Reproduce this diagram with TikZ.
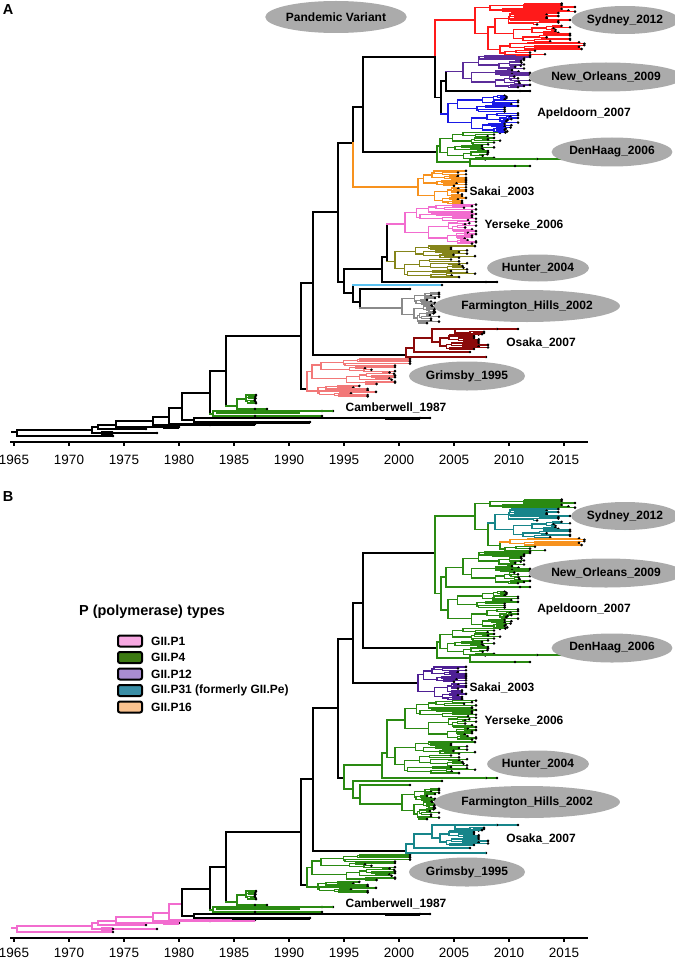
\documentclass[tikz,border=0pt]{standalone}
\usepackage{fontspec}
\setmainfont{Liberation Sans}
\usetikzlibrary{shapes.geometric}
\definecolor{redA}{HTML}{FF1A1A}
\definecolor{purA}{HTML}{5B2C9A}
\definecolor{bluA}{HTML}{1A1AE6}
\definecolor{grn}{HTML}{2A8A12}
\definecolor{orgA}{HTML}{F7921E}
\definecolor{pnkA}{HTML}{F26CCF}
\definecolor{olvA}{HTML}{85851A}
\definecolor{cyaA}{HTML}{5CC3F2}
\definecolor{gryA}{HTML}{8A8A8A}
\definecolor{drdA}{HTML}{8B0A0A}
\definecolor{salA}{HTML}{F27878}
\definecolor{tealB}{HTML}{17858A}
\definecolor{purB}{HTML}{4E1F94}
\definecolor{ellg}{HTML}{ABABAB}
\definecolor{lgPa}{HTML}{F7A8E2}
\definecolor{lgPb}{HTML}{3C7A12}
\definecolor{lgPc}{HTML}{A98CD2}
\definecolor{lgPd}{HTML}{3A8EA6}
\definecolor{lgPe}{HTML}{F9C28F}
\tikzset{
  br/.style={line width=1.3pt,line cap=rect},
  bb/.style={line width=1.7pt,line cap=rect},
  ell/.style={ellipse,fill=ellg,inner sep=0pt,font=\fontsize{12}{14}\selectfont\bfseries},
  lab/.style={inner sep=0pt,font=\fontsize{12}{14}\selectfont\bfseries},
  axl/.style={inner sep=0pt,font=\fontsize{13.5}{16}\selectfont},
}
\def\rtmin{2.2}
\def\rtstep{0.42}
\def\rtjit{10}
\def\rtcol{black}
\def\axly{460}
\newcommand\tipd[2]{\fill[black] (#1,#2) circle[radius=1.45pt];}
\newcommand\rtree[4]{%
\begingroup
\pgfmathsetmacro\rtspan{#3-#2}%
\pgfmathsetmacro\rtmid{(#2+#3)/2}%
\ifdim\rtspan pt<\rtmin pt\relax
  \pgfmathsetmacro\rttip{max(#1+2,#4-\rtjit*floor(4*rnd)/3)}%
  \draw[br,color=\rtcol] (#1,\rtmid)--(\rttip,\rtmid);
  \tipd{\rttip}{\rtmid}%
\else
  \pgfmathsetmacro\rts{#2+(0.3+0.4*rnd)*\rtspan}%
  \pgfmathsetmacro\rtca{(#2+\rts)/2}%
  \pgfmathsetmacro\rtcb{(\rts+#3)/2}%
  \pgfmathsetmacro\rtxa{#1+\rtstep*rnd*(#4-#1)}%
  \pgfmathsetmacro\rtxb{#1+\rtstep*rnd*(#4-#1)}%
  \draw[br,color=\rtcol] (\rtxa,\rtca)-|(#1,\rtcb)--(\rtxb,\rtcb);
  \edef\rtnext{\noexpand\rtree{\rtxa}{#2}{\rts}{#4}\noexpand\rtree{\rtxb}{\rts}{#3}{#4}}%
  \rtnext
\fi
\endgroup}
% seed, color, parent x, root x, ya, yb, xend, jitter
\newcommand\clade[8]{%
  \pgfmathsetseed{#1}%
  \def\rtcol{#2}\def\rtjit{#8}%
  \pgfmathsetmacro\clmid{(#5+#6)/2}%
  \draw[br,color=#2] (#3,\clmid)--(#4,\clmid);
  \rtree{#4}{#5}{#6}{#7}}

\newcommand\drawpanel{%
% ---- axis
\draw[line width=2.2pt] (10,442)--(588,442);
\foreach \yr [count=\i from 0] in {1965,1970,...,2015}{%
  \draw[line width=1.3pt] (14+55*\i,442)--(14+55*\i,446);
  \node[axl] at (14+55*\i,\axly) {\yr};}
% ---- root ladder
\draw[bb,cR] (12,432)--(17,432);
\draw[bb,cR] (113,436)-|(17,430)--(92,430); \tipd{113}{436}
\draw[bb,cR] (157,433)-|(92,427)--(98,427); \tipd{157}{433}
\draw[line width=3.2pt,cR] (101,433)--(113,433); \tipd{113}{433}
\draw[bb,cR] (146,429)-|(98,425)--(116,425); \tipd{146}{429}
\draw[bb,cR] (179,427)-|(116,421)--(153,421); \tipd{179}{427}
\draw[line width=3pt,cR] (163,427)--(179,427);
\draw[bb,cR] (210,425)-|(153,417)--(169,417); \tipd{210}{425}
\draw[bb,cR] (255,424)-|(169,408)--(182,408); \tipd{255}{424}
\draw[line width=3pt,cR] (194,424)--(255,424);
\draw[bb,cK] (194,420)-|(182,393)--(210,393);
\draw[bb,cK] (430,418)-|(194,422)--(310,422); \tipd{430}{418}\tipd{420}{418}\tipd{310}{422}
\draw[line width=3pt,cK] (385,418)--(420,418) (232,422)--(310,422);
% ---- N210 and Camberwell
\draw[bb,cK] (226,371)-|(210,414);
\draw[bb,cCam] (210,414)--(213,414);
\draw[br,cCam] (333,411)-|(213,416)--(322,416); \tipd{333}{411}\tipd{322}{416}\tipd{322}{411}\tipd{255}{416}
\draw[line width=2.6pt,cCam] (283,411)--(333,411) (216,413)--(300,413);
\draw[bb,cK] (301,336)-|(226,406); \draw[bb,cCam] (226,406)--(237,406);
\draw[br,cCam] (246,399)-|(237,409)--(267,409); \tipd{267}{409}\tipd{255}{409}
\pgfmathsetseed{31}\def\rtcol{cCam}\def\rtjit{2}\rtree{246}{394}{404}{256}
% ---- N301, Grimsby
\draw[bb,cK] (313,283)-|(301,389)--(307,389);
\draw[br,cGri] (312,371.5)-|(307,391)--(318,391);
\pgfmathsetseed{41}\def\rtcol{cGri}\def\rtjit{45}\rtree{312}{358}{385}{410}
\pgfmathsetseed{42}\def\rtcol{cGri}\def\rtjit{25}\rtree{318}{385}{397}{376}
% ---- N313, Osaka
\draw[bb,cK] (338,212)-|(313,355)--(406,355);
\draw[br,cOsa] (486,357)-|(406,348)--(414,348); \tipd{486}{357}
\draw[br,cOsa] (470,352)-|(414,338)--(432,338); \tipd{470}{352}
\draw[line width=2.6pt,cOsa] (450,357)--(486,357);
\draw[br,cOsa] (455,329)-|(432,342)--(440,342);
\draw[br,cOsa] (518,329)-|(455,333)--(470,333); \tipd{518}{329}\tipd{497}{329}
\draw[line width=2.6pt,cOsa] (470,329)--(497,329);
\pgfmathsetseed{51}\def\rtcol{cOsa}\def\rtjit{14}\rtree{440}{334}{350}{488}
\pgfmathsetseed{52}\def\rtcol{cOsa}\def\rtjit{6}\rtree{470}{331}{335}{486}
% ---- N338, N353, Sakai
\draw[bb,cK] (353,143)-|(338,282)--(344,282);
\draw[bb,cK] (363,107)-|(353,143);
\draw[bb,cSakS] (353,143)--(353,187)--(418,187);
\pgfmathsetseed{61}\def\rtcol{cSak}\def\rtjit{12}\rtree{418}{170}{204}{466}
% ---- N363, DenHaag
\draw[bb,cK] (435,57)-|(363,152)--(437,152);
\draw[br,cDH] (440,146)-|(437,162)--(470,162);
\pgfmathsetseed{71}\def\rtcol{cDH}\def\rtjit{18}\rtree{440}{132}{160}{500}
\draw[br,cDH] (562,159)-|(470,166)--(530,166); \tipd{562}{159}\tipd{537}{159}\tipd{530}{166}\tipd{515}{166}
\draw[line width=2.8pt,cDH] (505,159)--(537,159);
% ---- N435 group
\draw[bb,cSyd] (475,20)-|(435,57);
\draw[bb,cN] (435,57)--(435,97.5)--(441,97.5);
\draw[br,cN] (446,81)-|(441,114); \draw[br,cAp] (441,114)--(448,114);
\pgfmathsetseed{81}\def\rtcol{cAp}\def\rtjit{20}\rtree{448}{95}{133}{518}
\draw[br,cN] (530,91)-|(446,71.5); \draw[br,cNO] (446,71.5)--(463,71.5); \tipd{530}{91}\tipd{520}{91}
\pgfmathsetseed{91}\def\rtcol{cNO}\def\rtjit{18}\rtree{463}{55}{88}{530}
% red / Sydney
\draw[br,cSyd] (475,7.5)--(475,33.5);
\clade{11}{cSyd}{475}{490}{3}{12}{575}{20}
\draw[br,cSyd] (475,33.5)--(488,33.5) (488,27)--(488,49.5) (488,49.5)--(500,49.5) (500,46)--(500,53);
\clade{12}{cSydT}{488}{495}{12}{42}{570}{35}
\clade{13}{cSydO}{500}{510}{42}{50}{587}{8}
\clade{14}{cSydG}{500}{505}{50}{56}{545}{15}
% ---- N344 group
\draw[bb,cNf] (382,269)-|(344,293)--(353,293);
\draw[bb,cNf] (387,257)-|(382,282)--(497,282); \tipd{497}{282}\tipd{486}{282}
\draw[line width=2.6pt,cNf] (440,282)--(486,282);
\draw[bb,cNf] (387,224)--(387,261.5);
\draw[br,cYer] (387,224)--(405,224);
\pgfmathsetseed{101}\def\rtcol{cYer}\def\rtjit{12}\rtree{405}{204}{244}{476}
\draw[br,cHun] (387,261.5)--(395,261.5);
\pgfmathsetseed{111}\def\rtcol{cHun}\def\rtjit{24}\rtree{395}{245}{278}{475}
\draw[bb,cNf] (353,285)--(353,302)--(360,302);
\draw[br,cCya] (353,285)--(442,285); \tipd{442}{285}
\draw[bb,cNf] (410,289)-|(360,308); \tipd{410}{289}
\draw[br,cFarm] (360,308)--(402,308);
\pgfmathsetseed{121}\def\rtcol{cFarm}\def\rtjit{12}\rtree{402}{292}{324}{439}
% ---- labels
\node[ell,minimum width=94pt,minimum height=28pt] at (625,20) {Sydney\_2012};
\node[ell,minimum width=134pt,minimum height=29pt] at (606,77) {New\_Orleans\_2009};
\node[lab] at (584,113) {Apeldoorn\_2007};
\node[ell,minimum width=105pt,minimum height=29pt] at (612,152) {DenHaag\_2006};
\node[lab] at (502,192) {Sakai\_2003};
\node[lab] at (524,225) {Yerseke\_2006};
\node[ell,minimum width=97pt,minimum height=27pt] at (538,268) {Hunter\_2004};
\node[ell,minimum width=159pt,minimum height=32pt] at (527,306) {Farmington\_Hills\_2002};
\node[lab] at (541,343) {Osaka\_2007};
\node[ell,minimum width=100pt,minimum height=29pt] at (467,376) {Grimsby\_1995};
\node[lab] at (396,408) {Camberwell\_1987};
}

\begin{document}
\begin{tikzpicture}[x=1pt,y=-1pt]
\useasboundingbox (0,0) rectangle (674,960);
% ================= Panel A
\begin{scope}
\colorlet{cR}{black}\colorlet{cK}{black}
\colorlet{cSyd}{redA}\colorlet{cSydT}{redA}\colorlet{cSydO}{redA}\colorlet{cSydG}{redA}
\colorlet{cN}{black}\colorlet{cNO}{purA}\colorlet{cAp}{bluA}\colorlet{cDH}{grn}
\colorlet{cSakS}{orgA}\colorlet{cSak}{orgA}\colorlet{cNf}{black}
\colorlet{cYer}{pnkA}\colorlet{cHun}{olvA}\colorlet{cCya}{cyaA}\colorlet{cFarm}{gryA}
\colorlet{cOsa}{drdA}\colorlet{cGri}{salA}\colorlet{cCam}{grn}
\def\axly{460}
\drawpanel
\node[ell,minimum width=138pt,minimum height=32pt] (pv) at (336,17) {Pandemic Variant};
\node[inner sep=0pt,font=\fontsize{14.5}{16}\selectfont\bfseries] (la) at (8,10) {A};
\end{scope}
% ================= Panel B
\begin{scope}[yshift=-496pt]
\colorlet{cR}{pnkA}\colorlet{cK}{black}
\colorlet{cSyd}{grn}\colorlet{cSydT}{tealB}\colorlet{cSydO}{orgA}\colorlet{cSydG}{grn}
\colorlet{cN}{grn}\colorlet{cNO}{grn}\colorlet{cAp}{grn}\colorlet{cDH}{grn}
\colorlet{cSakS}{black}\colorlet{cSak}{purB}\colorlet{cNf}{grn}
\colorlet{cYer}{grn}\colorlet{cHun}{grn}\colorlet{cCya}{grn}\colorlet{cFarm}{grn}
\colorlet{cOsa}{tealB}\colorlet{cGri}{grn}\colorlet{cCam}{grn}
\def\axly{457}
\drawpanel
\node[inner sep=0pt,font=\fontsize{14.5}{16}\selectfont\bfseries] (lb) at (8,1) {B};
\end{scope}
% ================= Legend (panel B)
\node[inner sep=0pt,font=\fontsize{14.5}{17}\selectfont\bfseries] (lt) at (152,612) {P (polymerase) types};
\foreach \yy/\cc/\tt [count=\k] in {641/lgPa/GII.P1,657.5/lgPb/GII.P4,674/lgPc/GII.P12,690.5/lgPd/GII.P31 (formerly GII.Pe),707/lgPe/GII.P16}{%
  \draw[line width=2pt,rounded corners=2pt,fill=\cc] (118,\yy-5.5) rectangle (142,\yy+5.5);
  \node[anchor=west,inner sep=0pt,font=\fontsize{12}{14}\selectfont\bfseries] (lg\k) at (151,\yy) {\tt};
}
\end{tikzpicture}
\end{document}
